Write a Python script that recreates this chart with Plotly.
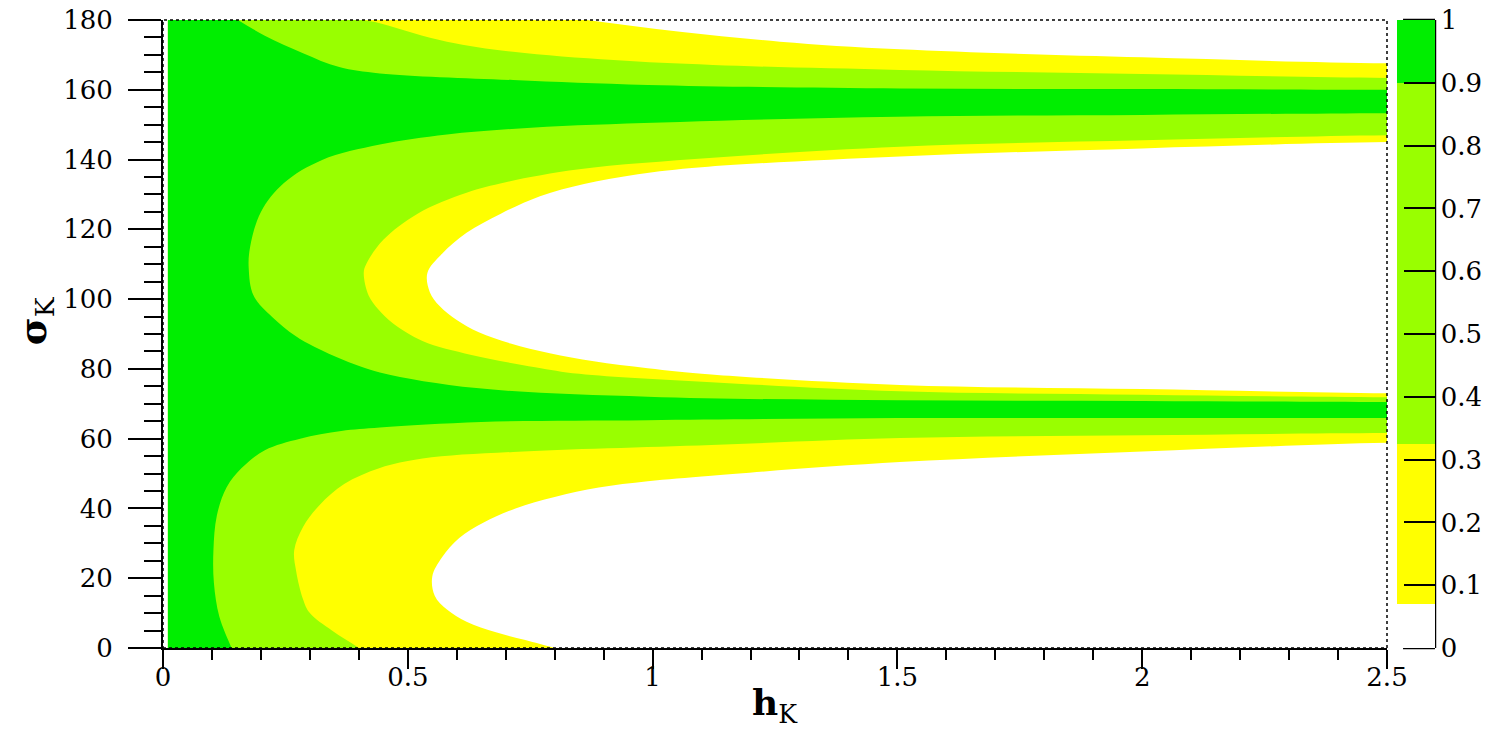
import plotly.graph_objects as go

# ---- data: contour boundaries (h_K, sigma_K) ----
levels = [0.07, 0.325, 0.9]
level_colors = ['#ffff00', '#99ff00', '#00ee00']
colorbar_ticks = [0, 0.1, 0.2, 0.3, 0.4, 0.5, 0.6, 0.7, 0.8, 0.9, 1]
colorbar_ticktext = ['0', '0.1', '0.2', '0.3', '0.4', '0.5', '0.6', '0.7', '0.8', '0.9', '1']
x_ticks = [0, 0.5, 1, 1.5, 2, 2.5]
x_ticktext = ['0', '0.5', '1', '1.5', '2', '2.5']
y_ticks = [0, 20, 40, 60, 80, 100, 120, 140, 160, 180]

# level 0.07 (yellow / white boundary)
y_top_h = [0.70, 0.866, 1.056, 1.26, 1.505, 2.0, 2.5]
y_top_s = [183, 180, 176.6, 173.8, 171.6, 169.3, 167.6]
y_mid_h = [2.5, 2.0, 1.505, 1.1, 0.97, 0.86, 0.77, 0.69, 0.62, 0.57, 0.54, 0.545, 0.565, 0.6,
           0.645, 0.71, 0.79, 0.88, 0.99, 1.12, 1.505, 2.0, 2.5]
y_mid_s = [145, 143.2, 140.9, 137.8, 135.8, 133, 129.5, 124.5, 119, 113, 107.5, 102, 98, 94,
           90.5, 87.3, 84.5, 82.2, 80.2, 78.4, 75.4, 74.2, 73]
y_bot_h = [2.5, 2.0, 1.505, 1.12, 0.99, 0.89, 0.80, 0.72, 0.655, 0.605, 0.57, 0.55, 0.555,
           0.58, 0.62, 0.68, 0.74, 0.80, 0.93]
y_bot_s = [58.8, 56.3, 53.3, 49.4, 47.8, 46, 43.3, 40, 36, 31.5, 26, 20.5, 15,
           11, 7.5, 4.5, 2.3, 0, -5]

# level 0.325 (chartreuse / yellow boundary)
c_top_h = [0.32, 0.443, 0.58, 0.715, 0.92, 1.123, 1.505, 2.0, 2.5]
c_top_s = [184, 179.1, 173.8, 170.9, 168.5, 167.1, 165.7, 164.5, 163.4]
c_mid_h = [2.5, 2.0, 1.505, 1.123, 0.85, 0.70, 0.62, 0.52, 0.45, 0.415, 0.41, 0.42, 0.44,
           0.47, 0.53, 0.63, 0.76, 0.85, 1.12, 1.505, 2.0, 2.5]
c_mid_s = [147, 145.5, 143.7, 140.5, 137.2, 133.5, 130.5, 124.5, 117, 110, 107.5, 101, 97,
           93, 88, 84, 80.5, 78.6, 76.2, 73.6, 72.6, 71.9]
c_bot_h = [2.5, 2.0, 1.505, 1.12, 0.715, 0.53, 0.443, 0.37, 0.32, 0.286, 0.268, 0.272, 0.286,
           0.30, 0.345, 0.40, 0.45]
c_bot_s = [61.6, 61.0, 60.2, 58.2, 56.2, 54.3, 51.6, 47, 41, 34.7, 28, 22, 14, 10, 5, 0, -5]

# level 0.9 (green / chartreuse boundary)
g_top_h = [0.10, 0.153, 0.208, 0.286, 0.36, 0.443, 0.715, 0.99, 1.505, 2.0, 2.5]
g_top_s = [184.5, 180, 175.5, 170.5, 166.5, 164.7, 162.8, 161.4, 160.4, 160.2, 160.0]
g_mid_h = [2.5, 2.0, 1.5, 1.056, 0.784, 0.58, 0.443, 0.325, 0.247, 0.2, 0.178, 0.175, 0.185,
           0.223, 0.27, 0.31, 0.37, 0.443, 0.64, 0.99, 1.5, 2.0, 2.5]
g_mid_s = [153.3, 152.8, 152.3, 150.8, 149.4, 147.2, 144.3, 139.9, 133.3, 125, 115, 109, 101,
           94.9, 89.5, 86.3, 82.5, 79, 74.5, 72, 71, 70.8, 70.5]
g_bot_h = [2.5, 2.0, 1.5, 0.99, 0.65, 0.443, 0.364, 0.28, 0.208, 0.16, 0.13, 0.11, 0.103,
           0.104, 0.115, 0.14, 0.155]
g_bot_s = [65.9, 65.9, 65.9, 65.3, 64.8, 63.2, 62.2, 60, 56.7, 51.5, 46.1, 38, 28, 18.6, 9, 0, -5]

# data starts slightly right of h = 0
H_LEFT = 0.01
# construction points outside the visible axis range (clipped away)
H_OUT = 2.8
S_LOW, S_HIGH = -50, 230
LEFT_EDGE_S = [S_LOW, -20, 0, 45, 90, 135, 180, 200, S_HIGH]

boundaries = [
    (y_top_h, y_top_s, y_mid_h, y_mid_s, y_bot_h, y_bot_s),
    (c_top_h, c_top_s, c_mid_h, c_mid_s, c_bot_h, c_bot_s),
    (g_top_h, g_top_s, g_mid_h, g_mid_s, g_bot_h, g_bot_s),
]


def region(th, ts, mh, ms, bh, bs):
    xs = ([th[0]] + list(th) + [H_OUT, H_OUT] + list(mh) + [H_OUT, H_OUT] + list(bh)
          + [bh[-1]] + [H_LEFT] * len(LEFT_EDGE_S))
    ys = ([S_HIGH] + list(ts) + [ts[-1], ms[0]] + list(ms) + [ms[-1], bs[0]] + list(bs)
          + [S_LOW] + list(LEFT_EDGE_S))
    return xs, ys


fig = go.Figure()
for lev, col, b in zip(levels, level_colors, boundaries):
    xs, ys = region(*b)
    fig.add_trace(go.Scatter(
        x=xs, y=ys, mode='lines', fill='toself', fillcolor=col,
        line=dict(color=col, width=0, shape='spline', smoothing=1),
        hoverinfo='skip', showlegend=False, name=str(lev)))

# colour scale with hard steps
cs = [[0, '#ffffff'], [levels[0], '#ffffff']]
bounds = levels + [1]
for i, col in enumerate(level_colors):
    cs.append([bounds[i], col])
    cs.append([bounds[i + 1], col])

SERIF = 'DejaVu Serif'
CB_X = 1.0082      # colour bar left edge (paper)
CB_RIGHT = 1.0392  # colour bar right edge (paper)
CB_TICK0 = 1.0131  # start of colour-bar tick marks (paper)
fig.add_trace(go.Scatter(
    x=[None], y=[None], mode='markers', showlegend=False, hoverinfo='skip', xaxis='x2',
    marker=dict(color=[0], cmin=0, cmax=1, colorscale=cs, showscale=True,
                colorbar=dict(
                    thickness=38, thicknessmode='pixels', len=1, lenmode='fraction',
                    x=CB_X, xanchor='left', xpad=0, y=0.5, yanchor='middle', ypad=0,
                    outlinewidth=0, ticks='inside', ticklen=31, tickwidth=2,
                    tickcolor='black', tickvals=colorbar_ticks, ticktext=colorbar_ticktext,
                    tickfont=dict(family=SERIF, size=26, color='black')))))

fig.update_layout(
    width=1501, height=729,
    margin=dict(l=163, r=114, t=20, b=81, autoexpand=False),
    plot_bgcolor='white', paper_bgcolor='white',
    xaxis=dict(range=[0, 2.5], showgrid=False, zeroline=False, showline=True,
               linecolor='black', linewidth=2, ticks='outside', ticklen=19, tickwidth=2,
               tickcolor='black', tickvals=x_ticks, showticklabels=False,
               minor=dict(ticks='outside', ticklen=10, tickwidth=1.5, dtick=0.1,
                          tickcolor='black', showgrid=False)),
    xaxis2=dict(range=[0, 2.5], matches='x', overlaying='x', anchor='y', side='bottom',
                showgrid=False, zeroline=False, showline=False, ticks='',
                tickvals=x_ticks, ticktext=x_ticktext, ticklabelstandoff=11,
                tickfont=dict(family=SERIF, size=26, color='black')),
    yaxis=dict(range=[0, 180], showgrid=False, zeroline=False, showline=True,
               linecolor='black', linewidth=2, ticks='outside', ticklen=33, tickwidth=2,
               tickcolor='black', tickvals=y_ticks, ticklabelstandoff=10,
               tickfont=dict(family=SERIF, size=26, color='black'),
               minor=dict(ticks='outside', ticklen=17, tickwidth=1.5, dtick=5,
                          tickcolor='black', showgrid=False)),
    shapes=[
        dict(type='rect', xref='paper', yref='paper', x0=0, x1=1, y0=0, y1=1,
             line=dict(color='black', width=1.5, dash='dot'), layer='above'),
        dict(type='line', xref='paper', yref='paper', x0=CB_RIGHT, x1=CB_RIGHT, y0=0, y1=1,
             line=dict(color='black', width=2.5), layer='above'),
        dict(type='line', xref='paper', yref='paper', x0=CB_TICK0, x1=CB_RIGHT, y0=0, y1=0,
             line=dict(color='black', width=2.5), layer='above'),
        dict(type='line', xref='paper', yref='paper', x0=CB_TICK0, x1=CB_RIGHT, y0=1, y1=1,
             line=dict(color='black', width=2.5), layer='above'),
    ],
    annotations=[
        dict(text='<b>h</b><sub>K</sub>', xref='paper', yref='paper', x=0.5, y=-0.09,
             xanchor='center', yanchor='middle', showarrow=False,
             font=dict(family=SERIF, size=36, color='black')),
        dict(text='<b>σ</b><sub>K</sub>', xref='paper', yref='paper', x=-0.105, y=0.521,
             xanchor='center', yanchor='middle', showarrow=False, textangle=-90,
             font=dict(family=SERIF, size=38, color='black')),
    ],
)

fig.write_html('out.html', config={'displayModeBar': False},
               post_script="document.body.style.margin='0';")
